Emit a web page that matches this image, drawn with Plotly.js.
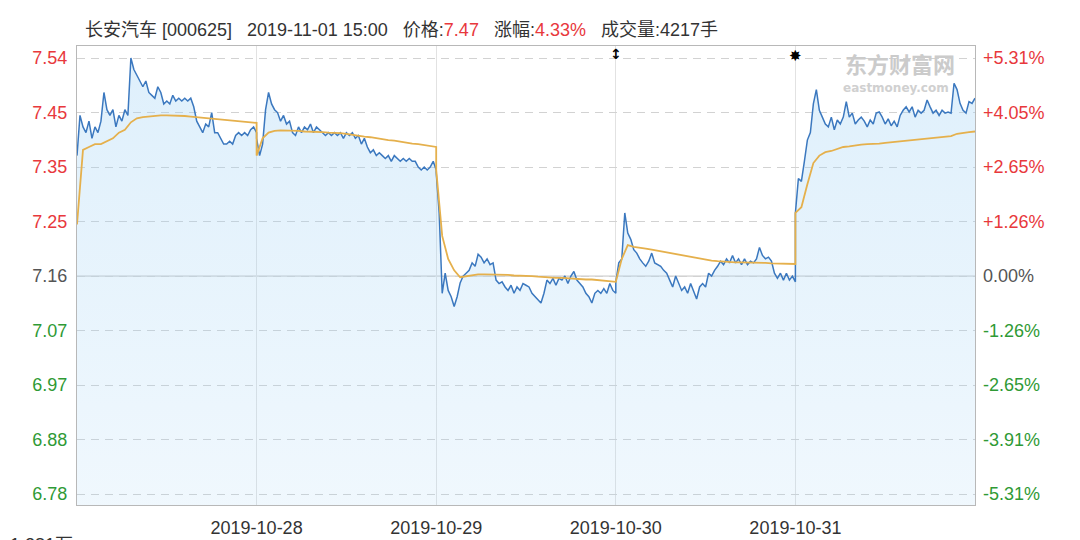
<!DOCTYPE html>
<html>
<head>
<meta charset="utf-8">
<script src="https://cdn.plot.ly/plotly-3.0.1.min.js"></script>
<style>html,body{margin:0;padding:0;background:#fff;}#chart{width:1080px;height:540px;}</style>
</head>
<body>
<div id="chart"></div>
<script>
// ---- data ----
const stockName = '长安汽车';
const stockCode = '000625';
const lastTime = '2019-11-01 15:00';
const volumeHands = 4217;
const prevClose = 7.16;
const dayLabels = ['2019-10-28', '2019-10-29', '2019-10-30', '2019-10-31'];
const minutesPerDay = 240;
const priceStepMin = 4;
const avgStepMin = 8;

const priceDay1 = [7.37,7.44,7.42,7.41,7.43,7.40,7.42,7.41,7.43,7.48,7.45,7.44,7.45,7.42,7.44,7.43,7.45,7.44,7.54,7.52,7.51,7.50,7.49,7.50,7.48,7.475,7.47,7.49,7.48,7.46,7.465,7.46,7.475,7.465,7.47,7.465,7.47,7.465,7.47,7.455,7.43,7.42,7.41,7.425,7.42,7.445,7.41,7.41,7.40,7.39,7.39,7.395,7.39,7.405,7.41,7.405,7.41,7.405,7.415,7.42,7.41];
const priceDay2 = [7.40,7.37,7.39,7.45,7.48,7.46,7.45,7.445,7.43,7.44,7.425,7.43,7.41,7.405,7.42,7.41,7.42,7.415,7.425,7.41,7.42,7.415,7.41,7.405,7.41,7.405,7.41,7.405,7.41,7.40,7.41,7.405,7.41,7.40,7.405,7.39,7.40,7.385,7.375,7.38,7.37,7.375,7.37,7.365,7.37,7.36,7.37,7.365,7.36,7.365,7.36,7.365,7.36,7.36,7.35,7.345,7.35,7.345,7.35,7.36,7.345];
const priceDay3 = [7.34,7.27,7.13,7.165,7.135,7.124,7.107,7.124,7.148,7.16,7.165,7.17,7.183,7.177,7.198,7.193,7.183,7.19,7.18,7.183,7.153,7.147,7.15,7.141,7.135,7.144,7.13,7.141,7.135,7.147,7.144,7.141,7.13,7.124,7.118,7.113,7.13,7.153,7.147,7.156,7.144,7.156,7.153,7.16,7.147,7.16,7.168,7.153,7.147,7.141,7.13,7.124,7.113,7.13,7.135,7.13,7.138,7.13,7.147,7.135,7.13];
const priceDay4 = [7.15,7.183,7.19,7.27,7.235,7.224,7.206,7.20,7.19,7.183,7.177,7.186,7.20,7.183,7.18,7.177,7.17,7.165,7.153,7.141,7.16,7.147,7.135,7.141,7.13,7.147,7.135,7.12,7.141,7.147,7.141,7.165,7.16,7.17,7.177,7.186,7.18,7.19,7.183,7.196,7.183,7.19,7.18,7.19,7.18,7.186,7.183,7.19,7.21,7.196,7.19,7.193,7.186,7.165,7.156,7.165,7.153,7.165,7.153,7.16,7.15];
const priceDay5 = [7.27,7.33,7.325,7.36,7.397,7.41,7.46,7.485,7.449,7.437,7.425,7.42,7.437,7.415,7.432,7.425,7.437,7.464,7.437,7.444,7.425,7.432,7.437,7.43,7.42,7.432,7.425,7.444,7.446,7.437,7.425,7.434,7.422,7.43,7.42,7.44,7.449,7.455,7.446,7.455,7.437,7.449,7.444,7.449,7.467,7.455,7.444,7.449,7.44,7.449,7.444,7.446,7.444,7.496,7.485,7.461,7.449,7.444,7.464,7.461,7.47];

const avgDay1 = [7.25,7.38,7.385,7.39,7.39,7.395,7.40,7.41,7.415,7.428,7.435,7.437,7.438,7.44,7.44,7.44,7.44,7.44,7.439,7.438,7.437,7.436,7.435,7.434,7.433,7.432,7.431,7.43,7.429,7.428,7.427];
const avgDay2 = [7.37,7.40,7.41,7.413,7.414,7.414,7.413,7.413,7.412,7.412,7.411,7.411,7.41,7.41,7.409,7.408,7.406,7.405,7.403,7.402,7.40,7.399,7.397,7.396,7.394,7.392,7.391,7.39,7.388,7.387,7.385];
const avgDay3 = [7.345,7.23,7.19,7.17,7.158,7.16,7.162,7.163,7.163,7.163,7.163,7.162,7.162,7.161,7.161,7.16,7.16,7.159,7.158,7.158,7.157,7.157,7.156,7.156,7.155,7.154,7.154,7.153,7.152,7.152,7.151];
const avgDay4 = [7.15,7.19,7.214,7.211,7.21,7.208,7.206,7.204,7.202,7.20,7.199,7.197,7.195,7.193,7.191,7.189,7.187,7.186,7.185,7.185,7.184,7.184,7.184,7.183,7.183,7.183,7.182,7.182,7.182,7.181,7.181];
const avgDay5 = [7.27,7.28,7.32,7.357,7.37,7.376,7.378,7.381,7.385,7.386,7.388,7.389,7.39,7.39,7.391,7.392,7.393,7.394,7.395,7.396,7.397,7.398,7.399,7.40,7.401,7.403,7.404,7.408,7.41,7.411,7.412];

const yTickVals = [7.54, 7.445, 7.35, 7.255, 7.16, 7.065, 6.97, 6.875, 6.78];
const yTickLeft = ['7.54','7.45','7.35','7.25','7.16','7.07','6.97','6.88','6.78'];
const yTickRight = ['+5.31%','+4.05%','+2.65%','+1.26%','0.00%','-1.26%','-2.65%','-3.91%','-5.31%'];
const volumeLabel = '1,281万';

// ---- build ----
const RED = '#e8383c', GREEN = '#2f9a35', GRAY = '#555';
function build(days, step) {
  const xs = [], ys = [];
  days.forEach((arr, d) => arr.forEach((v, i) => { xs.push(d * minutesPerDay + i * step); ys.push(v); }));
  return {xs, ys};
}
const price = build([priceDay1, priceDay2, priceDay3, priceDay4, priceDay5], priceStepMin);
const avg = build([avgDay1, avgDay2, avgDay3, avgDay4, avgDay5], avgStepMin);
const nDays = 5;

function colorTick(val, txt) {
  const c = val > prevClose + 1e-9 ? RED : (val < prevClose - 1e-9 ? GREEN : GRAY);
  return '<span style="color:' + c + '">' + txt + '</span>';
}
const leftText = yTickVals.map((v, i) => colorTick(v, yTickLeft[i]));
const rightText = yTickVals.map((v, i) => colorTick(v, yTickRight[i]));

const last = priceDay5[priceDay5.length - 1];
const chg = (last - prevClose) / prevClose * 100;
const S = '\u00a0\u00a0\u00a0';
const titleText = stockName + ' [' + stockCode + ']' + S + lastTime + S + '价格:<span style="color:' + RED + '">' + last.toFixed(2) +
  '</span>' + S + '涨幅:<span style="color:' + RED + '">' + chg.toFixed(2) + '%</span>' + S + '成交量:' + volumeHands + '手';

const yRange = [6.761, 7.561];
const FONT = 'Arial, "Liberation Sans", "Noto Sans CJK SC", sans-serif';

const traces = [
  {
    x: price.xs, y: price.ys, type: 'scatter', mode: 'lines',
    line: {color: '#3b78bf', width: 1.5},
    fill: 'tozeroy',
    fillcolor: 'rgba(160,210,245,0.26)',
    fillgradient: {type: 'vertical', start: 6.761, stop: 7.54,
      colorscale: [[0, 'rgba(160,210,245,0.16)'], [1, 'rgba(160,210,245,0.34)']]},
    hoverinfo: 'skip'
  },
  {
    x: avg.xs, y: avg.ys, type: 'scatter', mode: 'lines', yaxis: 'y2',
    line: {color: '#e5b04c', width: 1.8},
    hoverinfo: 'skip'
  }
];

const layout = {
  width: 1080, height: 540,
  margin: {l: 77, r: 105, t: 46, b: 35},
  paper_bgcolor: '#fff', plot_bgcolor: '#fff',
  showlegend: false,
  font: {family: FONT, size: 18, color: '#333'},
  xaxis: {
    range: [0, nDays * minutesPerDay],
    tickvals: dayLabels.map((d, i) => (i + 1) * minutesPerDay),
    ticktext: dayLabels,
    showgrid: true, gridcolor: '#e2e2e2', gridwidth: 1,
    showline: true, linecolor: '#b8b8b8', linewidth: 1, mirror: true,
    zeroline: false, ticks: '', ticklabelstandoff: 6,
    tickfont: {size: 18, color: '#333', family: FONT},
    fixedrange: true
  },
  yaxis: {
    range: yRange, tickvals: yTickVals, ticktext: leftText,
    showgrid: true, gridcolor: '#d2d2d2', gridwidth: 1, griddash: '8px,6px',
    zeroline: false, ticks: '', ticklabelstandoff: 5,
    showline: true, linecolor: '#b8b8b8', mirror: true,
    tickfont: {size: 18, family: FONT},
    fixedrange: true
  },
  yaxis2: {
    range: yRange, tickvals: yTickVals, ticktext: rightText,
    overlaying: 'y', side: 'right',
    showgrid: false, zeroline: false, ticks: '', ticklabelstandoff: 7,
    tickfont: {size: 18, family: FONT},
    fixedrange: true
  },
  shapes: [
    {type: 'line', xref: 'paper', x0: 0, x1: 1, yref: 'y', y0: prevClose, y1: prevClose,
     line: {color: '#c4c4c4', width: 1}, layer: 'below'}
  ],
  annotations: [
    {xref: 'paper', yref: 'paper', x: 0.007, y: 1.035, xanchor: 'left', yanchor: 'middle',
     text: titleText, showarrow: false, font: {size: 18, color: '#333', family: FONT}},
    {xref: 'x', yref: 'paper', x: 3 * minutesPerDay, y: 0.982, xanchor: 'center', yanchor: 'middle',
     text: '<b>↕</b>', showarrow: false, font: {size: 14, color: '#000', family: 'DejaVu Sans'}},
    {xref: 'x', yref: 'paper', x: 4 * minutesPerDay, y: 0.979, xanchor: 'center', yanchor: 'middle',
     text: '✸', showarrow: false, font: {size: 15, color: '#000', family: 'DejaVu Sans'}},
    {xref: 'paper', yref: 'paper', x: 0.9165, y: 0.963, xanchor: 'center', yanchor: 'middle',
     text: '<b>东方财富网</b>', showarrow: false, font: {size: 22, color: '#cbcbcb', family: '"Noto Sans CJK SC"'}},
    {xref: 'paper', yref: 'paper', x: 0.912, y: 0.908, xanchor: 'center', yanchor: 'middle',
     text: '<b>eastmoney.com</b>', showarrow: false, font: {size: 12, color: '#d0d0d0', family: 'DejaVu Sans'}},
    {xref: 'paper', yref: 'paper', x: -0.077, y: -0.087, xanchor: 'left', yanchor: 'middle',
     text: volumeLabel, showarrow: false, font: {size: 18, color: '#333', family: FONT}}
  ]
};

Plotly.newPlot('chart', traces, layout, {staticPlot: true, displayModeBar: false});
</script>
</body>
</html>
